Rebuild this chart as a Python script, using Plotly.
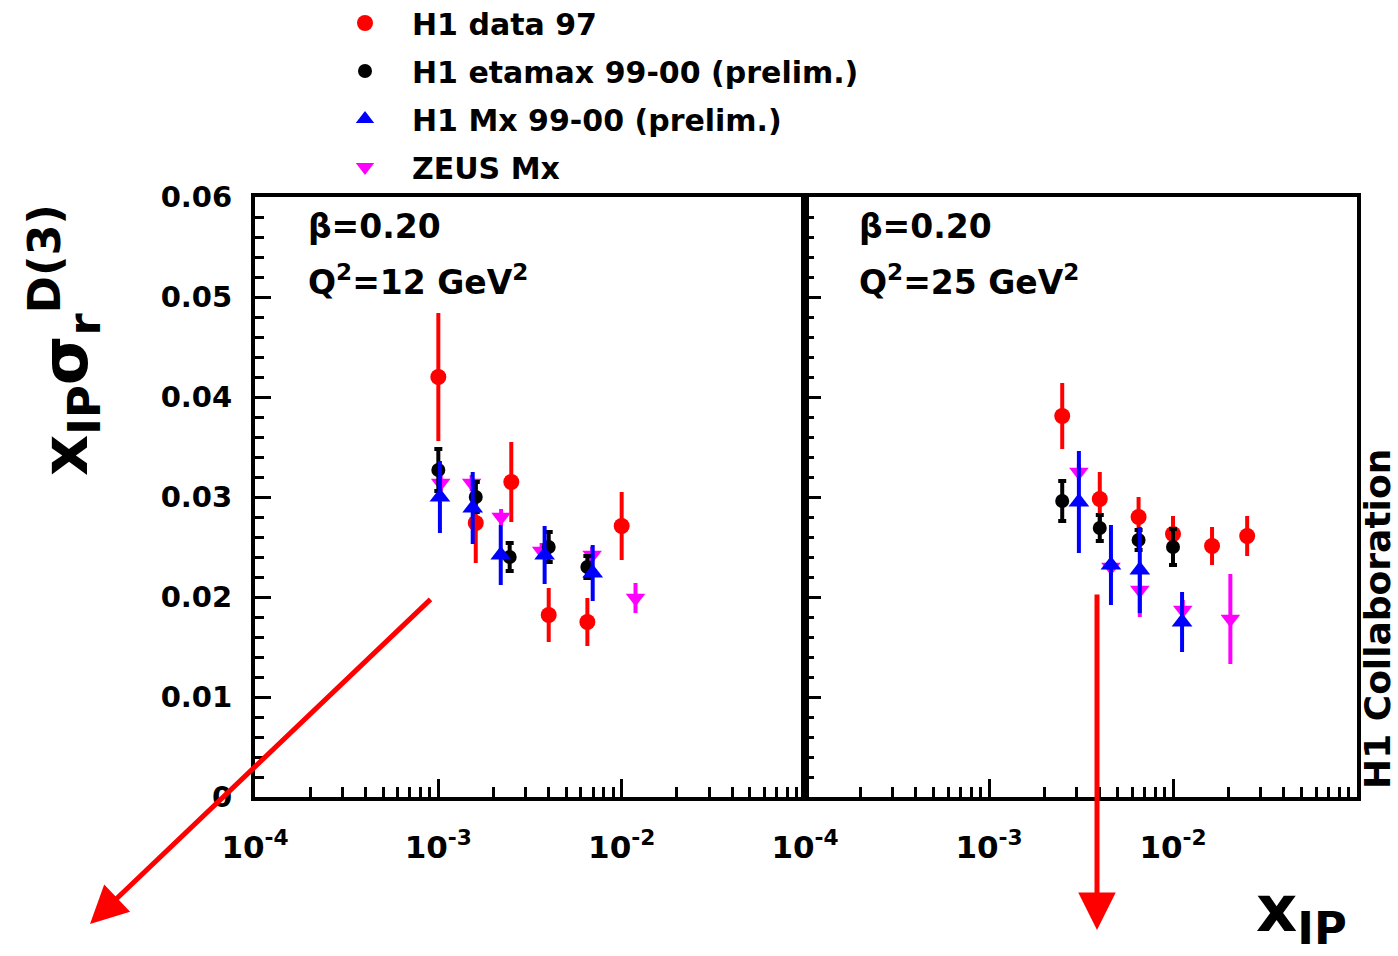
import plotly.graph_objects as go

W, H = 1398, 956

# ---------------- data ----------------
# Panel 1: beta=0.20, Q^2=12 GeV^2
h97_x1 = [1.0e-3, 1.6e-3, 2.5e-3, 4.0e-3, 6.5e-3, 1.0e-2]
h97_y1 = [0.0420, 0.0274, 0.0315, 0.0182, 0.0175, 0.0271]
h97_e1 = [0.0064, 0.0040, 0.0040, 0.0027, 0.0024, 0.0034]

eta_x1 = [1.0e-3, 1.6e-3, 2.45e-3, 4.0e-3, 6.5e-3]
eta_y1 = [0.0327, 0.0300, 0.0240, 0.0250, 0.0230]
eta_e1 = [0.0021, 0.0015, 0.0014, 0.0015, 0.0011]

mx_x1 = [1.02e-3, 1.54e-3, 2.19e-3, 3.8e-3, 6.95e-3]
mx_y1 = [0.0300, 0.0289, 0.0242, 0.0242, 0.0224]
mx_e1 = [0.0036, 0.0036, 0.0030, 0.0029, 0.0028]

zeus_x1 = [1.03e-3, 1.52e-3, 2.2e-3, 3.66e-3, 6.9e-3, 1.19e-2]
zeus_y1 = [0.0314, 0.0314, 0.0280, 0.0246, 0.0242, 0.0199]
zeus_e1 = [0.0008, 0.0008, 0.0008, 0.0008, 0.0008, 0.0015]

# Panel 2: beta=0.20, Q^2=25 GeV^2
h97_x2 = [2.5e-3, 4.0e-3, 6.5e-3, 1.0e-2, 1.63e-2, 2.53e-2]
h97_y2 = [0.0381, 0.0298, 0.0280, 0.0263, 0.0251, 0.0261]
h97_e2 = [0.0033, 0.0027, 0.0020, 0.0018, 0.0019, 0.0020]

eta_x2 = [2.5e-3, 4.0e-3, 6.5e-3, 1.0e-2]
eta_y2 = [0.0296, 0.0269, 0.0257, 0.0250]
eta_e2 = [0.0020, 0.0013, 0.0010, 0.0018]

mx_x2 = [3.08e-3, 4.6e-3, 6.6e-3, 1.12e-2]
mx_y2 = [0.0295, 0.0232, 0.0227, 0.0175]
mx_e2 = [0.0051, 0.0040, 0.0043, 0.0030]

zeus_x2 = [3.08e-3, 4.6e-3, 6.6e-3, 1.13e-2, 2.05e-2]
zeus_y2 = [0.0325, 0.0230, 0.0207, 0.0187, 0.0178]
zeus_e2 = [0.0008, 0.0008, 0.0027, 0.0010, 0.0045]

series_names = ["H1 data 97", "H1 etamax 99-00 (prelim.)", "H1 Mx 99-00 (prelim.)", "ZEUS Mx"]
panel_labels = [("β=0.20", "Q<sup>2</sup>=12 GeV<sup>2</sup>"),
                ("β=0.20", "Q<sup>2</sup>=25 GeV<sup>2</sup>")]
x_tickvals = [1e-4, 1e-3, 1e-2, 1e-1]
x_ticktext = ["10<sup>-4</sup>", "10<sup>-3</sup>", "10<sup>-2</sup>", ""]
y_tickvals = [0, 0.01, 0.02, 0.03, 0.04, 0.05, 0.06]
y_ticktext = ["0", "0.01", "0.02", "0.03", "0.04", "0.05", "0.06"]

# ---------------- styles ----------------
FONT = "DejaVu Sans"
styles = {
    "H1 data 97": dict(color="#ff0000", symbol="circle", size=16, cap=0, rank=1),
    "H1 etamax 99-00 (prelim.)": dict(color="#000000", symbol="circle", size=14, cap=4, rank=2),
    "H1 Mx 99-00 (prelim.)": dict(color="#0000ff", symbol="triangle-up", size=18, cap=0, rank=3),
    "ZEUS Mx": dict(color="#ff00ff", symbol="triangle-down", size=17, cap=0, rank=4),
}
draw_order = ["H1 data 97", "ZEUS Mx", "H1 etamax 99-00 (prelim.)", "H1 Mx 99-00 (prelim.)"]

panels = [
    {"H1 data 97": (h97_x1, h97_y1, h97_e1),
     "H1 etamax 99-00 (prelim.)": (eta_x1, eta_y1, eta_e1),
     "H1 Mx 99-00 (prelim.)": (mx_x1, mx_y1, mx_e1),
     "ZEUS Mx": (zeus_x1, zeus_y1, zeus_e1)},
    {"H1 data 97": (h97_x2, h97_y2, h97_e2),
     "H1 etamax 99-00 (prelim.)": (eta_x2, eta_y2, eta_e2),
     "H1 Mx 99-00 (prelim.)": (mx_x2, mx_y2, mx_e2),
     "ZEUS Mx": (zeus_x2, zeus_y2, zeus_e2)},
]

fig = go.Figure()
for p, pdata in enumerate(panels):
    xa = "x" if p == 0 else "x2"
    ya = "y" if p == 0 else "y2"
    for name in draw_order:
        xs, ys, es = pdata[name]
        st = styles[name]
        fig.add_trace(go.Scatter(
            x=xs, y=ys, mode="markers", name=name,
            xaxis=xa, yaxis=ya,
            marker=dict(color=st["color"], symbol=st["symbol"], size=st["size"], line=dict(width=0)),
            error_y=dict(type="data", array=es, visible=True, color=st["color"],
                         thickness=4, width=st["cap"]),
            showlegend=(p == 0), legendrank=st["rank"], legendgroup=name,
            cliponaxis=False,
        ))

# ---------------- layout ----------------
px_l1, px_r1, px_r2 = 255, 805, 1357
py_top, py_bot = 197, 797
dom1 = [px_l1 / W, px_r1 / W]
dom2 = [px_r1 / W, px_r2 / W]
ydom = [(H - py_bot) / H, (H - py_top) / H]

tickfont = dict(family=FONT, size=29, color="black", weight="bold")
xcommon = dict(type="log", range=[-4, -1], tickmode="array", tickvals=x_tickvals,
               ticktext=x_ticktext, ticks="inside", ticklen=18, tickwidth=3, tickcolor="black",
               showline=True, linewidth=4, linecolor="black", mirror=True, automargin=False,
               showgrid=False, zeroline=False, tickfont=dict(family=FONT, size=31, color="black", weight="bold"),
               ticklabelstandoff=20,
               minor=dict(dtick="D1", ticks="inside", ticklen=10, tickwidth=3, tickcolor="black", showgrid=False))
ycommon = dict(range=[0, 0.06], tickmode="array", tickvals=y_tickvals, ticktext=y_ticktext,
               ticks="inside", ticklen=16, tickwidth=3, tickcolor="black", automargin=False,
               showline=True, linewidth=4, linecolor="black", mirror=True,
               showgrid=False, zeroline=False, tickfont=tickfont, ticklabelstandoff=13,
               minor=dict(dtick=0.002, ticks="inside", ticklen=9, tickwidth=3, tickcolor="black", showgrid=False))

fig.update_layout(
    width=W, height=H, margin=dict(l=0, r=0, t=0, b=0, autoexpand=False),
    paper_bgcolor="white", plot_bgcolor="white",
    font=dict(family=FONT, color="black"),
    xaxis=dict(domain=dom1, anchor="y", **xcommon),
    yaxis=dict(domain=ydom, anchor="x", **ycommon),
    xaxis2=dict(domain=dom2, anchor="y2", **xcommon),
    yaxis2=dict(domain=ydom, anchor="x2", showticklabels=False, **ycommon),
    legend=dict(x=318 / W, y=1 + 3 / H, xanchor="left", yanchor="top", bgcolor="rgba(0,0,0,0)",
                font=dict(family=FONT, size=30, color="black", weight="bold"),
                itemwidth=84, tracegroupgap=6, traceorder="grouped"),
    showlegend=True,
)

ann = []
for p, (l1, l2) in enumerate(panel_labels):
    x0 = (306 if p == 0 else 857) / W
    ann.append(dict(xref="paper", yref="paper", x=x0, y=1 - 226 / H, text=l1, showarrow=False,
                    xanchor="left", yanchor="middle",
                    font=dict(family=FONT, size=33, color="black", weight="bold")))
    ann.append(dict(xref="paper", yref="paper", x=x0, y=1 - 280 / H, text=l2, showarrow=False,
                    xanchor="left", yanchor="middle",
                    font=dict(family=FONT, size=33, color="black", weight="bold")))

# y axis title
ann.append(dict(xref="paper", yref="paper", x=64 / W, y=1 - 340 / H,
                text="x<sub>IP</sub>σ<sub>r</sub><sup>D(3)</sup>", textangle=-90, showarrow=False,
                xanchor="center", yanchor="middle",
                font=dict(family=FONT, size=64, color="black", weight="bold")))
# x axis title
ann.append(dict(xref="paper", yref="paper", x=1254 / W, y=1 - 870 / H,
                text="x<sub>IP</sub>", showarrow=False, xanchor="left", yanchor="top",
                font=dict(family=FONT, size=64, color="black", weight="bold")))
# H1 Collaboration
ann.append(dict(xref="paper", yref="paper", x=1377 / W, y=1 - 619 / H,
                text="H1 Collaboration", textangle=-90, showarrow=False,
                xanchor="center", yanchor="middle",
                font=dict(family=FONT, size=36, color="black", weight="bold")))
# red arrows
ann.append(dict(xref="paper", yref="paper", x=90 / W, y=1 - 924 / H, ax=342, ay=-326,
                text="", showarrow=True, arrowhead=2, arrowsize=1.5, arrowwidth=5, arrowcolor="#ff0000"))
ann.append(dict(xref="paper", yref="paper", x=1097 / W, y=1 - 930 / H, ax=0, ay=-337,
                text="", showarrow=True, arrowhead=2, arrowsize=1.5, arrowwidth=5, arrowcolor="#ff0000"))

fig.update_layout(annotations=ann)
fig.write_html("out.html")
